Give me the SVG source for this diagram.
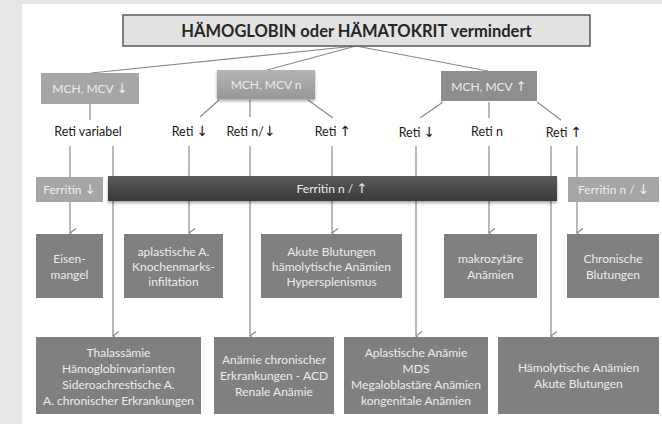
<svg xmlns="http://www.w3.org/2000/svg" width="662" height="424" viewBox="0 0 662 424">
<defs>
<style>
.t{font-family:Lato,"Open Sans","DejaVu Sans",sans-serif;text-anchor:middle}
.a{font-family:"DejaVu Sans",sans-serif;font-size:1.12em}
.lt{font-size:12px;fill:#ececec}
.rt{font-size:12.5px;fill:#1a1a1a}
.cn{stroke:#8a8a8a;stroke-width:1.2;fill:none}
.box{fill:#808080}
.lg{fill:#a6a6a6}
</style>
<linearGradient id="gMid" x1="0" y1="0" x2="0" y2="1">
<stop offset="0" stop-color="#b4b4b4"/><stop offset="1" stop-color="#979797"/>
</linearGradient>
<linearGradient id="gBar" x1="0" y1="0" x2="0" y2="1">
<stop offset="0" stop-color="#5a5a5a"/><stop offset="1" stop-color="#3a3a3a"/>
</linearGradient>
<filter id="sh" x="-5%" y="-20%" width="110%" height="150%">
<feDropShadow dx="0" dy="2" stdDeviation="1.5" flood-color="#000" flood-opacity="0.35"/>
</filter>
<marker id="ar" markerWidth="10" markerHeight="8" refX="5" refY="7" orient="auto-start-reverse" markerUnits="userSpaceOnUse" viewBox="0 0 10 8">
<path d="M0.5,1 L5,7 L9.5,1" fill="none" stroke="#8a8a8a" stroke-width="1.2"/>
</marker>
</defs>
<rect x="0" y="0" width="662" height="424" fill="#e6e6e6"/>
<rect x="22" y="4" width="640" height="420" fill="#ffffff"/>

<g id="connectors" class="cn">
<line x1="356" y1="46" x2="91" y2="73"/>
<line x1="356" y1="46" x2="267" y2="70"/>
<line x1="356" y1="46" x2="488" y2="71"/>
<line x1="90" y1="104" x2="90" y2="120"/>
<line x1="219" y1="100" x2="200" y2="117"/>
<line x1="250" y1="100" x2="250" y2="117"/>
<line x1="308" y1="100" x2="333" y2="118"/>
<line x1="443" y1="102" x2="420" y2="118"/>
<line x1="489" y1="102" x2="489" y2="118"/>
<line x1="537" y1="102" x2="561" y2="120"/>
<line x1="70" y1="146" x2="70" y2="233" marker-end="url(#ar)"/>
<line x1="113" y1="146" x2="113" y2="336" marker-end="url(#ar)"/>
<line x1="189" y1="146" x2="189" y2="233" marker-end="url(#ar)"/>
<line x1="250" y1="146" x2="250" y2="336" marker-end="url(#ar)"/>
<line x1="332" y1="146" x2="332" y2="233" marker-end="url(#ar)"/>
<line x1="416" y1="146" x2="416" y2="336" marker-end="url(#ar)"/>
<line x1="489" y1="146" x2="489" y2="233" marker-end="url(#ar)"/>
<line x1="551" y1="146" x2="551" y2="336" marker-end="url(#ar)"/>
<line x1="577" y1="146" x2="577" y2="233" marker-end="url(#ar)"/>
</g>

<g id="title">
<rect x="123" y="15" width="467" height="31" fill="#e2e2e2" stroke="#5a5a5a" stroke-width="1.5"/>
<text class="t" x="356.5" y="36.5" font-size="16.5" font-weight="bold" fill="#262626">HÄMOGLOBIN oder HÄMATOKRIT vermindert</text>
</g>

<g id="mch-down"><rect class="lg" x="41" y="73" width="98" height="31"/><text class="t lt" x="90" y="93">MCH, MCV <tspan class="a">↓</tspan></text></g>
<g id="mch-n"><rect x="217" y="70" width="98" height="29" fill="url(#gMid)" filter="url(#sh)"/><text class="t lt" x="266" y="89">MCH, MCV n</text></g>
<g id="mch-up"><rect x="441" y="71" width="96" height="30" fill="#8e8e8e"/><text class="t lt" x="489" y="91">MCH, MCV <tspan class="a">↑</tspan></text></g>

<g id="reti-var"><text class="t rt" x="88" y="136">Reti variabel</text></g>
<g id="reti-1"><text class="t rt" x="190" y="136">Reti <tspan class="a">↓</tspan></text></g>
<g id="reti-2"><text class="t rt" x="251" y="136">Reti n/<tspan class="a">↓</tspan></text></g>
<g id="reti-3"><text class="t rt" x="333" y="136">Reti <tspan class="a">↑</tspan></text></g>
<g id="reti-4"><text class="t rt" x="417" y="137">Reti <tspan class="a">↓</tspan></text></g>
<g id="reti-5"><text class="t rt" x="487" y="136">Reti n</text></g>
<g id="reti-6"><text class="t rt" x="564" y="137">Reti <tspan class="a">↑</tspan></text></g>

<g id="ferritin-down"><rect class="lg" x="36" y="177" width="67" height="25"/><text class="t lt" x="69.5" y="193.5">Ferritin <tspan class="a">↓</tspan></text></g>
<g id="ferritin-bar"><rect x="108" y="176" width="449" height="25" fill="url(#gBar)" filter="url(#sh)"/><text class="t lt" x="332" y="193">Ferritin n / <tspan class="a">↑</tspan></text></g>
<g id="ferritin-nd"><rect class="lg" x="568" y="177" width="91" height="25"/><text class="t lt" x="613.5" y="193.5">Ferritin n / <tspan class="a">↓</tspan></text></g>

<g id="eisenmangel"><rect class="box" x="36" y="234" width="67" height="64"/>
<text class="t lt" x="69.5" y="263">Eisen-</text><text class="t lt" x="69.5" y="279">mangel</text></g>
<g id="aplastische"><rect class="box" x="124" y="234" width="99" height="64"/>
<text class="t lt" x="173.5" y="256">aplastische A.</text><text class="t lt" x="173.5" y="271">Knochenmarks-</text><text class="t lt" x="173.5" y="286">infiltation</text></g>
<g id="akute"><rect class="box" x="261" y="234" width="141" height="64"/>
<text class="t lt" x="331.5" y="256">Akute Blutungen</text><text class="t lt" x="331.5" y="271">hämolytische Anämien</text><text class="t lt" x="331.5" y="286">Hypersplenismus</text></g>
<g id="makrozytaere"><rect class="box" x="444" y="234" width="93" height="64"/>
<text class="t lt" x="490.5" y="263">makrozytäre</text><text class="t lt" x="490.5" y="279">Anämien</text></g>
<g id="chronische"><rect class="box" x="567" y="234" width="92" height="64"/>
<text class="t lt" x="613" y="263">Chronische</text><text class="t lt" x="613" y="279">Blutungen</text></g>

<g id="thalassaemie"><rect class="box" x="36" y="337" width="165" height="77"/>
<text class="t lt" x="118.5" y="357">Thalassämie</text><text class="t lt" x="118.5" y="373">Hämoglobinvarianten</text><text class="t lt" x="118.5" y="389">Sideroachrestische A.</text><text class="t lt" x="118.5" y="405">A. chronischer Erkrankungen</text></g>
<g id="acd"><rect class="box" x="214" y="337" width="120" height="77"/>
<text class="t lt" x="274" y="364">Anämie chronischer</text><text class="t lt" x="274" y="380">Erkrankungen - ACD</text><text class="t lt" x="274" y="396">Renale Anämie</text></g>
<g id="aplastische-anaemie"><rect class="box" x="344" y="337" width="144" height="77"/>
<text class="t lt" x="416" y="357">Aplastische Anämie</text><text class="t lt" x="416" y="373">MDS</text><text class="t lt" x="416" y="389">Megaloblastäre Anämien</text><text class="t lt" x="416" y="405">kongenitale Anämien</text></g>
<g id="haemolytische"><rect class="box" x="498" y="337" width="161" height="77"/>
<text class="t lt" x="578.5" y="372">Hämolytische Anämien</text><text class="t lt" x="578.5" y="388">Akute Blutungen</text></g>
</svg>
